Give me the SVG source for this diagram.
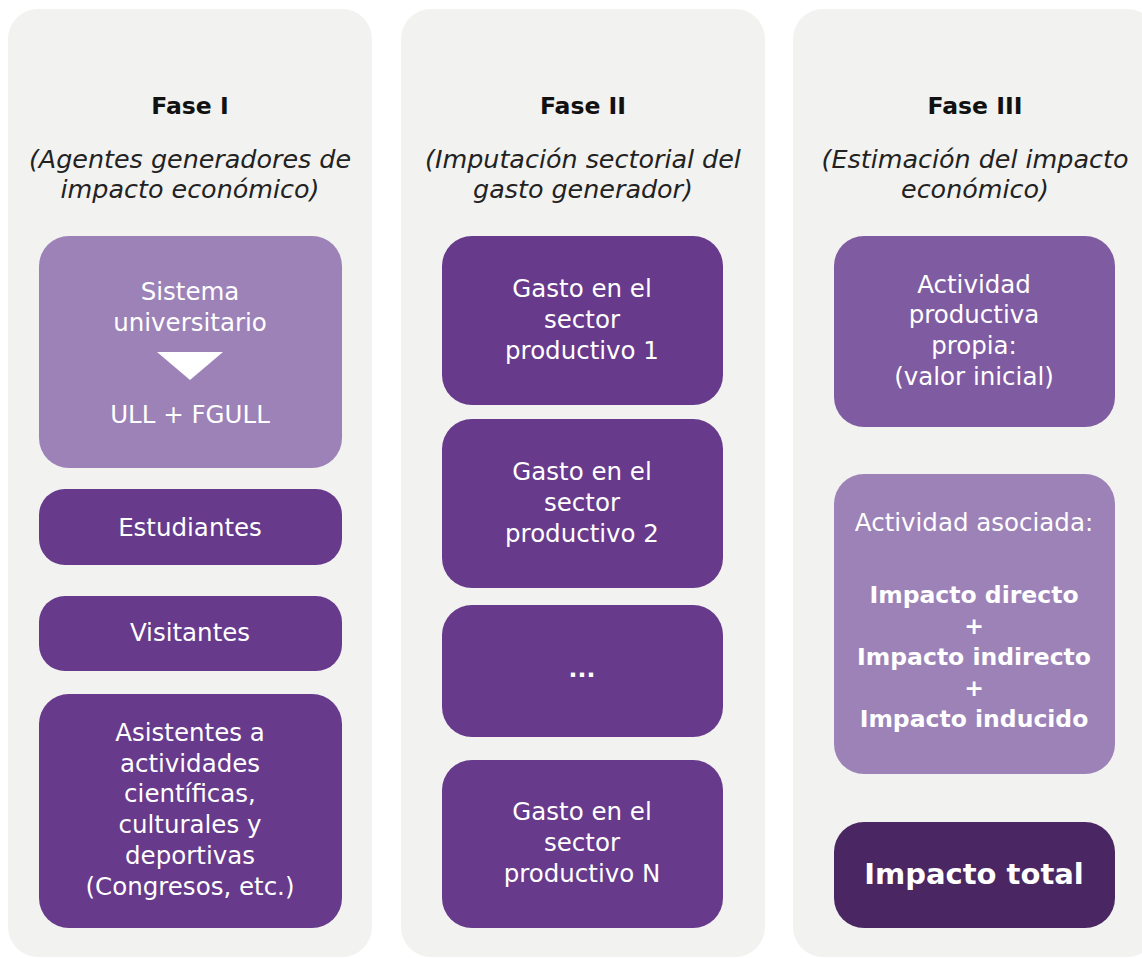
<svg xmlns="http://www.w3.org/2000/svg" width="1142" height="958" viewBox="0 0 1142 958">
<style>
.panel{fill:#F2F2F0}
.t{font-family:"DejaVu Sans",sans-serif;text-anchor:middle}
.title{font-size:23.5px;font-weight:bold;fill:#111}
.sub{font-size:25.4px;font-style:italic;fill:#222}
.w{fill:#fff;font-size:24.5px}
.wb{fill:#fff;font-size:23.5px;font-weight:bold}
.light{fill:#9D82B8}
.dark{fill:#673A8C}
.mid{fill:#7F5BA1}
.deep{fill:#4A2762}
</style>
<rect width="1142" height="958" fill="#fff"/>
<g id="panel-fase-1">
<rect class="panel" x="8" y="9" width="364" height="948" rx="30"/>
<text class="t title" x="190" y="114">Fase I</text>
<text class="t sub" x="190" y="168">(Agentes generadores de</text>
<text class="t sub" x="190" y="198">impacto económico)</text>
</g>
<g id="panel-fase-2">
<rect class="panel" x="401" y="9" width="364" height="948" rx="30"/>
<text class="t title" x="583" y="114">Fase II</text>
<text class="t sub" x="583" y="168">(Imputación sectorial del</text>
<text class="t sub" x="583" y="198">gasto generador)</text>
</g>
<g id="panel-fase-3">
<rect class="panel" x="793" y="9" width="364" height="948" rx="30"/>
<text class="t title" x="975" y="114">Fase III</text>
<text class="t sub" x="975" y="168">(Estimación del impacto</text>
<text class="t sub" x="975" y="198">económico)</text>
</g>
<g id="node-sistema">
<rect class="light" x="39" y="236" width="303" height="232" rx="30"/>
<text class="t w" x="190" y="300">Sistema</text>
<text class="t w" x="190" y="331">universitario</text>
<polygon points="157,352 223,352 190,380" fill="#fff"/>
<text class="t w" x="190" y="423">ULL + FGULL</text>
</g>
<g id="node-estudiantes">
<rect class="dark" x="39" y="489" width="303" height="76" rx="26"/>
<text class="t w" x="190" y="536">Estudiantes</text>
</g>
<g id="node-visitantes">
<rect class="dark" x="39" y="596" width="303" height="75" rx="26"/>
<text class="t w" x="190" y="641">Visitantes</text>
</g>
<g id="node-asistentes">
<rect class="dark" x="39" y="694" width="303" height="234" rx="30"/>
<text class="t w" x="190" y="741">Asistentes a</text>
<text class="t w" x="190" y="772">actividades</text>
<text class="t w" x="190" y="802">científicas,</text>
<text class="t w" x="190" y="833">culturales y</text>
<text class="t w" x="190" y="864">deportivas</text>
<text class="t w" x="190" y="895">(Congresos, etc.)</text>
</g>
<g id="node-gasto-1">
<rect class="dark" x="442" y="236" width="281" height="169" rx="30"/>
<text class="t w" x="582" y="297">Gasto en el</text>
<text class="t w" x="582" y="328">sector</text>
<text class="t w" x="582" y="359">productivo 1</text>
</g>
<g id="node-gasto-2">
<rect class="dark" x="442" y="419" width="281" height="169" rx="30"/>
<text class="t w" x="582" y="480">Gasto en el</text>
<text class="t w" x="582" y="511">sector</text>
<text class="t w" x="582" y="542">productivo 2</text>
</g>
<g id="node-gasto-dots">
<rect class="dark" x="442" y="605" width="281" height="132" rx="30"/>
<text class="t wb" x="582" y="677">...</text>
</g>
<g id="node-gasto-n">
<rect class="dark" x="442" y="760" width="281" height="168" rx="30"/>
<text class="t w" x="582" y="820">Gasto en el</text>
<text class="t w" x="582" y="851">sector</text>
<text class="t w" x="582" y="882">productivo N</text>
</g>
<g id="node-actividad-propia">
<rect class="mid" x="834" y="236" width="281" height="191" rx="30"/>
<text class="t w" x="974" y="293">Actividad</text>
<text class="t w" x="974" y="323">productiva</text>
<text class="t w" x="974" y="354">propia:</text>
<text class="t w" x="974" y="385">(valor inicial)</text>
</g>
<g id="node-actividad-asociada">
<rect class="light" x="834" y="474" width="281" height="300" rx="30"/>
<text class="t w" x="974" y="531">Actividad asociada:</text>
<text class="t wb" x="974" y="603">Impacto directo</text>
<text class="t wb" x="974" y="634">+</text>
<text class="t wb" x="974" y="665">Impacto indirecto</text>
<text class="t wb" x="974" y="696">+</text>
<text class="t wb" x="974" y="727">Impacto inducido</text>
</g>
<g id="node-impacto-total">
<rect class="deep" x="834" y="822" width="281" height="106" rx="30"/>
<text class="t wb" x="974" y="884" style="font-size:29px">Impacto total</text>
</g>
<g id="connectors"/>
</svg>
